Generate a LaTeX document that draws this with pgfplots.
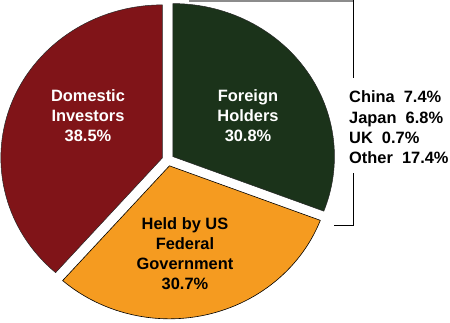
\documentclass[border=0pt]{standalone}
\usepackage{pgfplots}
\pgfplotsset{compat=1.18}
\usepackage{pgfplotstable}
\usepackage{fontspec}
\setmainfont{Liberation Sans}
\definecolor{domred}{RGB}{128,20,24}
\definecolor{forgreen}{RGB}{27,51,26}
\definecolor{govorange}{RGB}{245,155,32}
\definecolor{bracketgray}{RGB}{140,140,140}

\pgfplotstableread{
slice share
Domestic 38.5
Foreign 30.8
Government 30.7
}\piedata

\begin{document}
\begin{tikzpicture}
\pgfplotstablegetelem{0}{share}\of\piedata \let\vDom\pgfplotsretval
\pgfplotstablegetelem{1}{share}\of\piedata \let\vFor\pgfplotsretval
\pgfplotstablegetelem{2}{share}\of\piedata \let\vGov\pgfplotsretval
\pgfmathsetmacro{\aA}{90}
\pgfmathsetmacro{\aB}{90-3.6*\vFor}
\pgfmathsetmacro{\aC}{\aB-3.6*\vGov}
\pgfmathsetmacro{\aD}{\aC-3.6*\vDom}
\pgfmathsetmacro{\mF}{(\aA+\aB)/2}
\pgfmathsetmacro{\mG}{(\aB+\aC)/2}
\pgfmathsetmacro{\mD}{(\aC+\aD)/2}
\def\cx{168}\def\cy{162}\def\ex{6}
\path[use as bounding box] (0,0) rectangle (450pt,322pt);
\begin{axis}[at={(0,0)},anchor=south west,width=450pt,height=322pt,scale only axis,hide axis,
  xmin=0,xmax=450,ymin=0,ymax=322,clip=false]
% Foreign holders
\fill[forgreen, draw=black!85, line width=0.5pt]
  (axis cs:{\cx+\ex*cos(\mF)},{\cy+\ex*sin(\mF)}) -- ++(\aA:161.5pt and 153pt)
  arc[start angle=\aA, end angle=\aB, x radius=161.5pt, y radius=153pt] -- cycle;
% Held by US Federal Government
\fill[govorange, draw=black, line width=0.6pt]
  (axis cs:{\cx+\ex*cos(\mG)},{\cy+\ex*sin(\mG)}) -- ++(\aB:161.5pt and 153pt)
  arc[start angle=\aB, end angle=\aC, x radius=161.5pt, y radius=153pt] -- cycle;
% Domestic investors
\fill[domred, draw=black!85, line width=0.5pt]
  (axis cs:{\cx+\ex*cos(\mD)},{\cy+\ex*sin(\mD)}) -- ++(\aC:161.5pt and 153pt)
  arc[start angle=\aC, end angle=\aD, x radius=161.5pt, y radius=153pt] -- cycle;
% labels
\tikzset{lbl/.style={align=center, inner sep=0pt, font=\bfseries\fontsize{16.4}{20}\selectfont}}
\node[lbl, text=white] at (axis cs:88,206) {Domestic\\Investors\\38.5\%};
\node[lbl, text=white] at (axis cs:248,206) {Foreign\\Holders\\30.8\%};
\node[lbl, text=black] at (axis cs:185,68) {Held by US\\Federal\\Government\\30.7\%};
\node[align=left, inner sep=0pt, anchor=west, font=\bfseries\fontsize{16.4}{20.3}\selectfont]
  at (axis cs:349,194.5) {China\hspace{0.556em}7.4\%\\Japan\hspace{0.556em}6.8\%\\UK\hspace{0.556em}0.7\%\\Other\hspace{0.556em}17.4\%};
% bracket
\draw[bracketgray, line width=2pt] (axis cs:189,321) -- (axis cs:353.5,321);
\draw[black, line width=1pt] (axis cs:353.5,322) -- (axis cs:353.5,244);
\draw[black, line width=1pt] (axis cs:353.5,149) -- (axis cs:353.5,97) -- (axis cs:334,97);
\end{axis}
\end{tikzpicture}
\end{document}
